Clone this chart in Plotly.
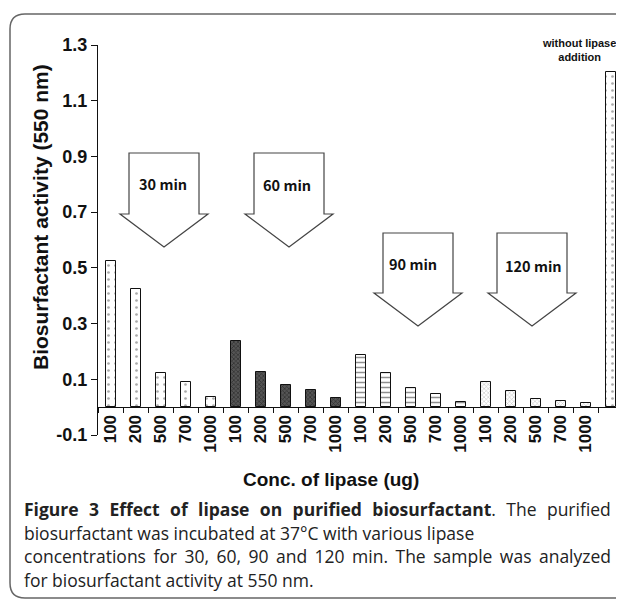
import plotly.graph_objects as go

# ---------------- data ----------------
conc_labels = ["100", "200", "500", "700", "1000"]
time_groups = ["30 min", "60 min", "90 min", "120 min"]
act_30 = [0.525, 0.425, 0.124, 0.089, 0.036]
act_60 = [0.236, 0.127, 0.079, 0.060, 0.032]
act_90 = [0.186, 0.121, 0.070, 0.047, 0.019]
act_120 = [0.091, 0.057, 0.029, 0.022, 0.016]
act_control = [1.204]
y_ticks = [-0.1, 0.1, 0.3, 0.5, 0.7, 0.9, 1.1, 1.3]
y_ticktext = ["-0.1", "0.1", "0.3", "0.5", "0.7", "0.9", "1.1", "1.3"]

# page body has an 8px margin -> figure drawn at (8, 8)
OFF = 8
W, H = 624 - OFF, 605 - OFF
PL, PR, PT, PB = 98, 623, 45, 435   # plot area in screen pixels
pw, ph = PR - PL, PB - PT


def px(x):
    return (x - PL) / pw


def py(y):
    return (PB - y) / ph


AX_FONT = "Liberation Sans"

fig = go.Figure()

patterns = [
    dict(shape=".", size=7, solidity=0.12, fgcolor="#555", bgcolor="white"),
    dict(shape="x", size=3, solidity=0.45, fgcolor="#111", bgcolor="#555"),
    dict(shape="-", size=5, solidity=0.3, fgcolor="#222", bgcolor="white"),
    dict(shape="x", size=3, solidity=0.3, fgcolor="#777", bgcolor="white"),
]
series = [act_30, act_60, act_90, act_120]
n = len(conc_labels)
for gi, vals in enumerate(series):
    xs = [gi * n + i for i in range(len(vals))]
    fig.add_trace(go.Bar(
        x=xs, y=vals, width=0.4, name=time_groups[gi],
        marker=dict(color="white", line=dict(color="#111", width=1), pattern=patterns[gi]),
        showlegend=False,
    ))
ctrl_x = [len(series) * n + i for i in range(len(act_control))]
fig.add_trace(go.Bar(
    x=ctrl_x, y=act_control, width=0.4, name="without lipase addition",
    marker=dict(color="white", line=dict(color="#111", width=1), pattern=patterns[0]),
    showlegend=False,
))

tick_x = list(range(len(series) * n))
tick_txt = conc_labels * len(series)
n_cat = len(series) * n + len(act_control)

fig.update_layout(
    width=W, height=H,
    margin=dict(l=PL - OFF, r=W - (PR - OFF), t=PT - OFF, b=H - (PB - OFF), autoexpand=False),
    plot_bgcolor="white", paper_bgcolor="white",
    bargap=0,
    xaxis=dict(
        range=[-0.5, n_cat - 0.5],
        tickvals=tick_x, ticktext=tick_txt, tickangle=-90,
        ticks="", showgrid=False, zeroline=False,
        showline=True, linecolor="#111", linewidth=1,
        anchor="free", position=(0 - y_ticks[0]) / (y_ticks[-1] - y_ticks[0]),
        tickfont=dict(family=AX_FONT, size=17, color="#111", weight="bold"),
        minor=dict(tick0=-0.5, dtick=1, ticks="outside", ticklen=5, tickcolor="#111", showgrid=False),
    ),
    yaxis=dict(
        range=[y_ticks[0], y_ticks[-1]],
        tickvals=y_ticks, ticktext=y_ticktext,
        ticks="outside", ticklen=6, tickcolor="#111",
        showline=True, linecolor="#111", linewidth=1,
        showgrid=False, zeroline=False,
        tickfont=dict(family=AX_FONT, size=18, color="#111", weight="bold"),
    ),
)

# frame
r = 15
x0, y0, x1, y1 = 10, 14, 640, 598
path = (f"M {px(x1)},{py(y0)} L {px(x0 + r)},{py(y0)} Q {px(x0)},{py(y0)} {px(x0)},{py(y0 + r)} "
        f"L {px(x0)},{py(y1 - r)} Q {px(x0)},{py(y1)} {px(x0 + r)},{py(y1)} L {px(x1)},{py(y1)}")
fig.add_shape(type="path", path=path, xref="paper", yref="paper",
              line=dict(color="#666", width=1.5))

# block arrows
arrows = [
    (164, 153, 214, 247),
    (289, 153, 214, 247),
    (418, 233, 293, 326),
    (532, 233, 293, 326),
]
for cx, top, sh, tip in arrows:
    bw, sw = 35, 44
    pts = [(cx - bw, top), (cx + bw, top), (cx + bw, sh), (cx + sw, sh), (cx, tip),
           (cx - sw, sh), (cx - bw, sh)]
    p = "M " + " L ".join(f"{px(a)},{py(b)}" for a, b in pts) + " Z"
    fig.add_shape(type="path", path=p, xref="paper", yref="paper",
                  line=dict(color="#444", width=1.2), fillcolor="white", layer="above")


def label(x, y, text, font, **kw):
    opts = dict(xanchor="center", yanchor="middle")
    opts.update(kw)
    fig.add_annotation(x=px(x), y=py(y), xref="paper", yref="paper", text=text,
                       showarrow=False, font=font, **opts)


arrow_labels = [(163, 183), (287, 185), (413, 263), (533, 265)]
for (ax, ay), txt in zip(arrow_labels, time_groups):
    label(ax, ay, txt, dict(family="Noto Sans CJK KR", size=14.5, color="#111", weight="bold"))

# axis titles
label(40, 217, "Biosurfactant activity (550 nm)",
      dict(family=AX_FONT, size=21, color="#111", weight="bold"), textangle=-90)
label(331, 479, "Conc. of lipase (ug)", dict(family=AX_FONT, size=19, color="#111", weight="bold"))
# control label
label(579, 50, "without lipase<br>addition",
      dict(family=AX_FONT, size=11, color="#111", weight="bold"))

# caption (justified lines padded with six-per-em spaces)
S2 = "\u2006\u2006 "
S1 = "\u2006 "
cap_lines = [
    S2.join(["<b>Figure", "3", "Effect", "of", "lipase", "on", "purified", "biosurfactant</b>.", "The", "purified"]),
    "biosurfactant was incubated at 37°C with various lipase",
    S1.join(["concentrations", "for", "30,", "60,", "90", "and", "120", "min.", "The", "sample", "was", "analyzed"]),
    "for biosurfactant activity at 550 nm.",
]
cap_y = [509, 533, 556, 580]
for line, cy in zip(cap_lines, cap_y):
    label(22, cy, line, dict(family="Open Sans", size=17.5, color="#222"), xanchor="left")

fig.write_html("out.html")
